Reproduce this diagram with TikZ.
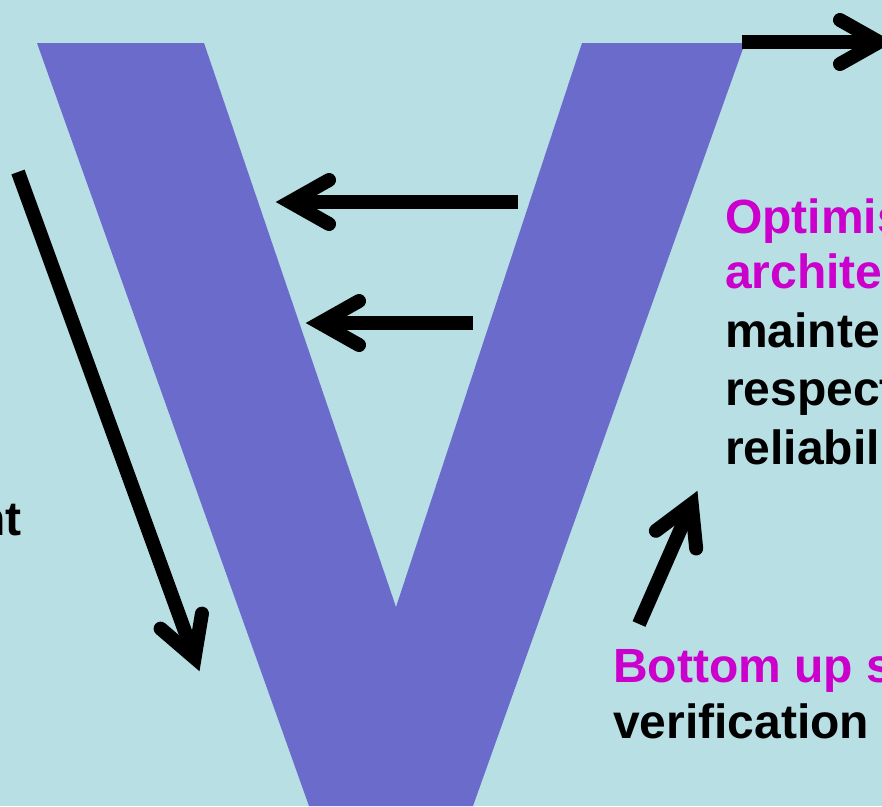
\documentclass[tikz,border=0pt]{standalone}
\usepackage{fontspec}
\setmainfont{Liberation Sans}
\usetikzlibrary{calc}

\definecolor{skybg}{RGB}{184,223,227}
\definecolor{vblue}{RGB}{107,107,204}
\definecolor{vmagenta}{RGB}{204,0,204}

\tikzset{
  stem/.style={line width=14pt, line cap=butt},
  barb/.style={line width=14pt, line cap=round, line join=miter},
  label/.style={inner sep=0pt, anchor=base west, font=\fontsize{48}{58}\selectfont\bfseries},
}

% draws the open chevron head at apex #1, pointing away from #2
\newcommand{\chevronhead}[2]{%
  \draw[barb] ($(#1)!44.8pt!29.4:(#2)$) -- (#1) -- ($(#1)!44.8pt!-29.4:(#2)$);%
}

\begin{document}
\begin{tikzpicture}[x=1pt, y=-1pt]
  \useasboundingbox (0,0) rectangle (882,806);
  \fill[skybg] (0,0) rectangle (882,806);

  % the big V
  \fill[vblue] (37,43) -- (204,43) -- (396,607) -- (582,43) -- (745,43)
               -- (473,806) -- (309,806) -- cycle;

  % arrow end points (s = tail, p = apex of head)
  \coordinate (s1) at (742,42);   \coordinate (p1) at (879,42);
  \coordinate (s2) at (518,202);  \coordinate (p2) at (290,202);
  \coordinate (s3) at (473,323);  \coordinate (p3) at (320,323);
  \coordinate (s4) at (18,172);   \coordinate (p4) at (194.6,657.8);
  \coordinate (s5) at (639,624);  \coordinate (p5) at (691.7,503.9);

  \foreach \k in {1,...,5} {
    \draw[stem] (s\k) -- (p\k);
    \chevronhead{p\k}{s\k}
  }

  % texts
  \node[label] (nt) at (22,535) [anchor=base east] {nt};

  \node[label, text=vmagenta] (opt)  at (725,233) {Optimis};
  \node[label, text=vmagenta] (arch) at (725,288) {archite};
  \node[label] (main) at (725,347) {mainte};
  \node[label] (resp) at (725,405) {respect};
  \node[label] (reli) at (725,464) {reliabil};

  \node[label, text=vmagenta] (bot) at (613,682) {Bottom up s};
  \node[label] (ver) at (613,738) {verification};
\end{tikzpicture}
\end{document}
